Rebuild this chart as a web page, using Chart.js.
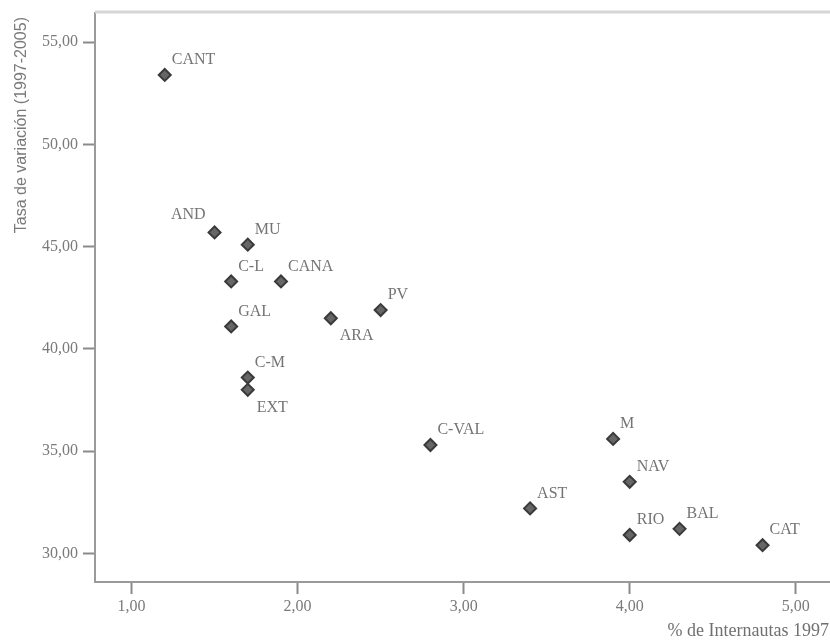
<!DOCTYPE html>
<html>
<head>
<meta charset="utf-8">
<script src="https://cdn.jsdelivr.net/npm/chart.js@4/dist/chart.umd.min.js"></script>
<style>
  html, body { margin: 0; padding: 0; background: #fff; }
  #wrap { width: 830px; height: 643px; }
</style>
</head>
<body>
<div id="wrap"><canvas id="scatter" width="830" height="643"></canvas></div>
<script>
// Comunidades autónomas y sus valores
const regions = ['CANT', 'AND', 'MU', 'C-L', 'CANA', 'GAL', 'C-M', 'EXT', 'ARA', 'PV',
  'C-VAL', 'AST', 'M', 'NAV', 'RIO', 'BAL', 'CAT'];
const internautas1997 = [1.2, 1.5, 1.7, 1.6, 1.9, 1.6, 1.7, 1.7, 2.2, 2.5,
  2.8, 3.4, 3.9, 4.0, 4.0, 4.3, 4.8];
const tasaVariacion = [53.4, 45.7, 45.1, 43.3, 43.3, 41.1, 38.6, 38.0, 41.5, 41.9,
  35.3, 32.2, 35.6, 33.5, 30.9, 31.2, 30.4];
const xTicks = [1, 2, 3, 4, 5];
const yTicks = [30, 35, 40, 45, 50, 55];

// dónde va cada etiqueta (por defecto arriba a la derecha)
const labelPlacement = { 'AND': 'left', 'EXT': 'below', 'ARA': 'below' };

const serif = '"Liberation Serif", "Times New Roman", serif';
const fmt = v => v.toFixed(2).replace('.', ',');

const pointLabels = {
  id: 'pointLabels',
  afterDatasetsDraw(chart) {
    const { ctx, scales: { x, y } } = chart;
    ctx.save();
    ctx.font = '16px ' + serif;
    ctx.fillStyle = '#747474';
    ctx.textBaseline = 'middle';
    regions.forEach((name, i) => {
      const px = x.getPixelForValue(internautas1997[i]);
      const py = y.getPixelForValue(tasaVariacion[i]);
      const where = labelPlacement[name];
      if (where === 'left') {
        ctx.textAlign = 'right';
        ctx.fillText(name, px - 9, py - 18);
      } else if (where === 'below') {
        ctx.textAlign = 'left';
        ctx.fillText(name, px + 9, py + 18);
      } else {
        ctx.textAlign = 'left';
        ctx.fillText(name, px + 7, py - 15);
      }
    });
    ctx.restore();
  }
};

const topBorder = {
  id: 'topBorder',
  afterDraw(chart) {
    const { ctx, chartArea } = chart;
    ctx.save();
    ctx.strokeStyle = '#d6d6d6';
    ctx.lineWidth = 3;
    ctx.beginPath();
    ctx.moveTo(chartArea.left, chartArea.top - 1);
    ctx.lineTo(chart.width, chartArea.top - 1);
    ctx.stroke();
    ctx.restore();
  }
};

const chart = new Chart(document.getElementById('scatter'), {
  type: 'scatter',
  data: {
    datasets: [{
      data: regions.map((r, i) => ({ x: internautas1997[i], y: tasaVariacion[i] })),
      pointStyle: 'rectRot',
      pointRadius: 6,
      pointHoverRadius: 6,
      backgroundColor: '#666',
      borderColor: '#3a3a3a',
      borderWidth: 2
    }]
  },
  options: {
    responsive: false,
    devicePixelRatio: 1,
    animation: false,
    layout: { padding: { top: 13, right: 1, left: 0, bottom: 0 } },
    plugins: { legend: { display: false }, tooltip: { enabled: false } },
    scales: {
      x: {
        type: 'linear',
        min: 0.78,
        max: 5.2,
        afterFit: s => { s.height = 61; s.paddingLeft = 0; s.paddingRight = 0; },
        afterBuildTicks: s => { s.ticks = xTicks.map(v => ({ value: v })); },
        border: { display: true, color: '#9a9a9a', width: 2 },
        grid: { drawOnChartArea: false, drawTicks: true, tickLength: 12, tickColor: '#8a8a8a', tickWidth: 2 },
        ticks: {
          padding: 3,
          color: '#7a7a7a',
          font: { family: serif, size: 16 },
          callback: v => fmt(v)
        },
        title: {
          display: true,
          text: '% de Internautas 1997',
          align: 'end',
          color: '#707070',
          font: { family: serif, size: 18 },
          padding: { top: 0, bottom: 1 }
        }
      },
      y: {
        type: 'linear',
        min: 28.6,
        max: 56.43,
        afterFit: s => { s.width = 95; s.paddingTop = 0; s.paddingBottom = 0; },
        afterBuildTicks: s => { s.ticks = yTicks.map(v => ({ value: v })); },
        border: { display: true, color: '#9a9a9a', width: 2 },
        grid: { drawOnChartArea: false, drawTicks: true, tickLength: 12, tickColor: '#8a8a8a', tickWidth: 2 },
        ticks: {
          padding: 5,
          color: '#7a7a7a',
          font: { family: serif, size: 16 },
          callback: v => fmt(v)
        },
        title: {
          display: true,
          text: 'Tasa de variación (1997-2005)\u2005',
          align: 'end',
          color: '#7a7a7a',
          font: { family: '"Liberation Sans", Arial, sans-serif', size: 16 },
          padding: { top: 12, bottom: 0 }
        }
      }
    }
  },
  plugins: [pointLabels, topBorder]
});

// el área de dibujo llega hasta el borde derecho (sin margen por el tamaño del marcador)
chart.getDatasetMeta(0).controller.getMaxOverflow = () => 0;
chart.update();
</script>
</body>
</html>
